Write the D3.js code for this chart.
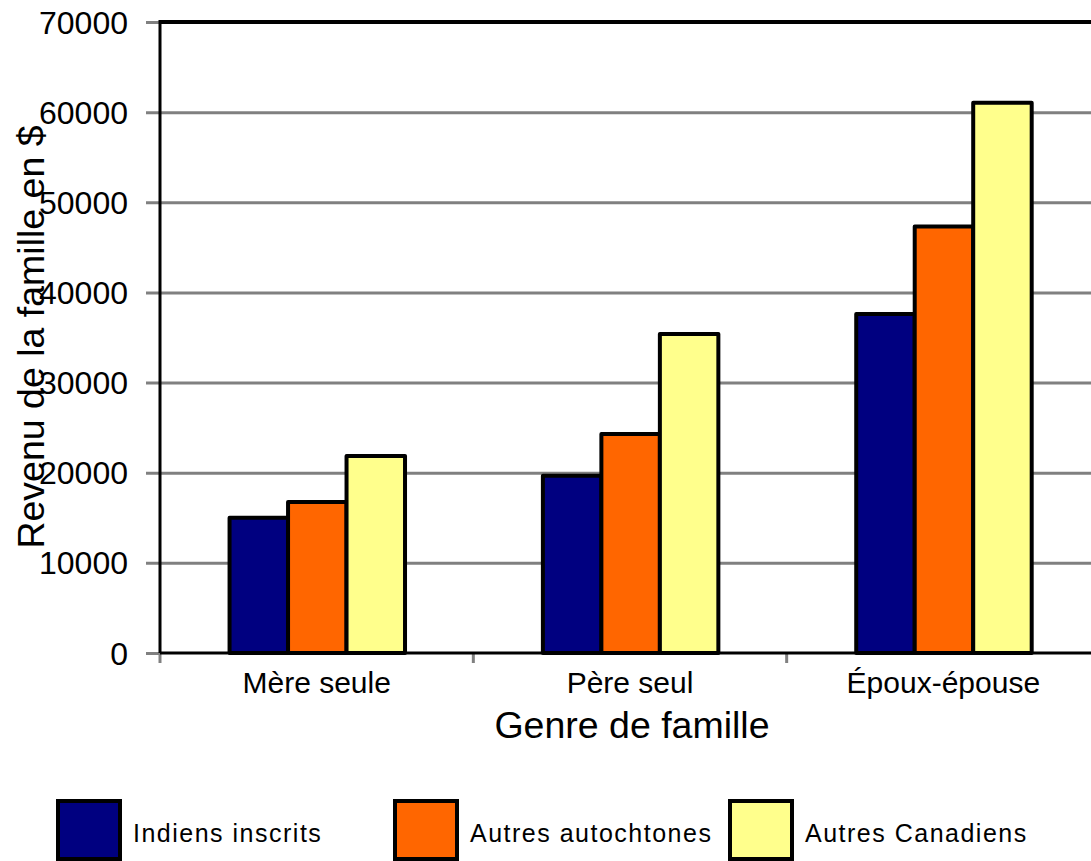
<!DOCTYPE html>
<html>
<head>
<meta charset="utf-8">
<script src="https://cdn.jsdelivr.net/npm/d3@7"></script>
<style>
  html, body { margin: 0; padding: 0; background: #fff; }
  svg { display: block; font-family: "Liberation Sans", Arial, sans-serif; }
</style>
</head>
<body>
<svg id="chart" width="1091" height="861"></svg>
<script>
const categories = ["Mère seule", "Père seul", "Époux-épouse"];
const seriesNames = ["Indiens inscrits", "Autres autochtones", "Autres Canadiens"];
const indiensInscrits = [15000, 19650, 37600];
const autresAutochtones = [16750, 24300, 47300];
const autresCanadiens = [21850, 35400, 61050];
const yTicks = [0, 10000, 20000, 30000, 40000, 50000, 60000, 70000];
const colors = ["#000080", "#FF6600", "#FFFF8C"];
const yTitle = "Revenu de la famille en $";
const xTitle = "Genre de famille";

(function () {
const seriesValues = [indiensInscrits, autresAutochtones, autresCanadiens];
const data = categories.map((c, i) => ({
  cat: c,
  vals: seriesNames.map((s, j) => ({ s, j, v: seriesValues[j][i] }))
}));

const svg = d3.select("#chart");
const pLeft = 160, pRight = 1100, pTop = 22, pBottom = 653;

const y = d3.scaleLinear().domain([0, 70000]).range([pBottom, pTop]);
const x0 = d3.scaleBand().domain(categories).range([pLeft, pRight]).padding(0);
const bw = x0.bandwidth();
const x1 = d3.scaleBand().domain(seriesNames).range([bw * 0.222, bw * 0.782]).padding(0);

// gridlines + left ticks
const yAxis = d3.axisLeft(y).tickValues(yTicks).tickSize(0).tickPadding(0).tickFormat(d3.format("d"));
const gy = svg.append("g").attr("transform", `translate(${pLeft},0)`).call(yAxis);
gy.select(".domain").remove();
gy.selectAll(".tick text")
  .attr("x", -32).attr("dy", null).attr("y", 11)
  .attr("font-size", 32).attr("fill", "#000")
  .attr("font-family", "'Liberation Sans', Arial, sans-serif")
  .attr("text-anchor", "end");
gy.selectAll(".tick").append("line")
  .attr("x1", -14).attr("x2", d => (d > 0 && d < 70000) ? pRight - pLeft : 0)
  .attr("stroke", "#808080").attr("stroke-width", 3);

// plot frame top
svg.append("line").attr("x1", pLeft).attr("x2", pRight).attr("y1", pTop).attr("y2", pTop)
  .attr("stroke", "#000").attr("stroke-width", 4);

// bottom ticks (between categories)
const tickXs = categories.map(c => x0(c));
svg.append("g").selectAll("line").data(tickXs).join("line")
  .attr("x1", d => d).attr("x2", d => d).attr("y1", pBottom).attr("y2", pBottom + 10)
  .attr("stroke", "#808080").attr("stroke-width", 3);

svg.append("line").attr("x1", pLeft).attr("x2", pLeft).attr("y1", pTop - 2).attr("y2", pBottom)
  .attr("stroke", "#000").attr("stroke-width", 3);
svg.append("line").attr("x1", pLeft).attr("x2", pRight).attr("y1", pBottom).attr("y2", pBottom)
  .attr("stroke", "#000").attr("stroke-width", 3);

// bars
const groups = svg.append("g").selectAll("g").data(data).join("g")
  .attr("transform", d => `translate(${x0(d.cat)},0)`);
groups.selectAll("rect").data(d => d.vals).join("rect")
  .attr("x", d => x1(d.s))
  .attr("width", x1.bandwidth())
  .attr("y", d => y(d.v))
  .attr("height", d => y(0) - y(d.v))
  .attr("fill", d => colors[d.j])
  .attr("stroke", "#000").attr("stroke-width", 4).attr("stroke-linejoin", "round");

// category labels
const xAxis = d3.axisBottom(x0).tickSize(0).tickPadding(0);
const gx = svg.append("g").attr("transform", `translate(0,${pBottom})`).call(xAxis);
gx.select(".domain").remove();
gx.selectAll(".tick text").attr("y", 40).attr("dy", null)
  .attr("font-size", 30).attr("fill", "#000")
  .attr("font-family", "'Liberation Sans', Arial, sans-serif");

// axis titles
svg.append("text").attr("x", 632).attr("y", 738).attr("text-anchor", "middle")
  .attr("font-size", 37.5).attr("fill", "#000").text(xTitle);
svg.append("text").attr("transform", "translate(44,337) rotate(-90)")
  .attr("text-anchor", "middle").attr("font-size", 37.5).attr("fill", "#000").text(yTitle);

// legend
const legX = [58, 395, 730];
const leg = svg.append("g").selectAll("g").data(seriesNames).join("g")
  .attr("transform", (d, i) => `translate(${legX[i]},801)`);
leg.append("rect").attr("width", 62).attr("height", 58)
  .attr("fill", (d, i) => colors[i]).attr("stroke", "#000").attr("stroke-width", 4);
leg.append("text").attr("x", 75).attr("y", 41).attr("font-size", 25)
  .attr("letter-spacing", "1.5px").attr("fill", "#000").text(d => d);
})();
</script>
</body>
</html>
